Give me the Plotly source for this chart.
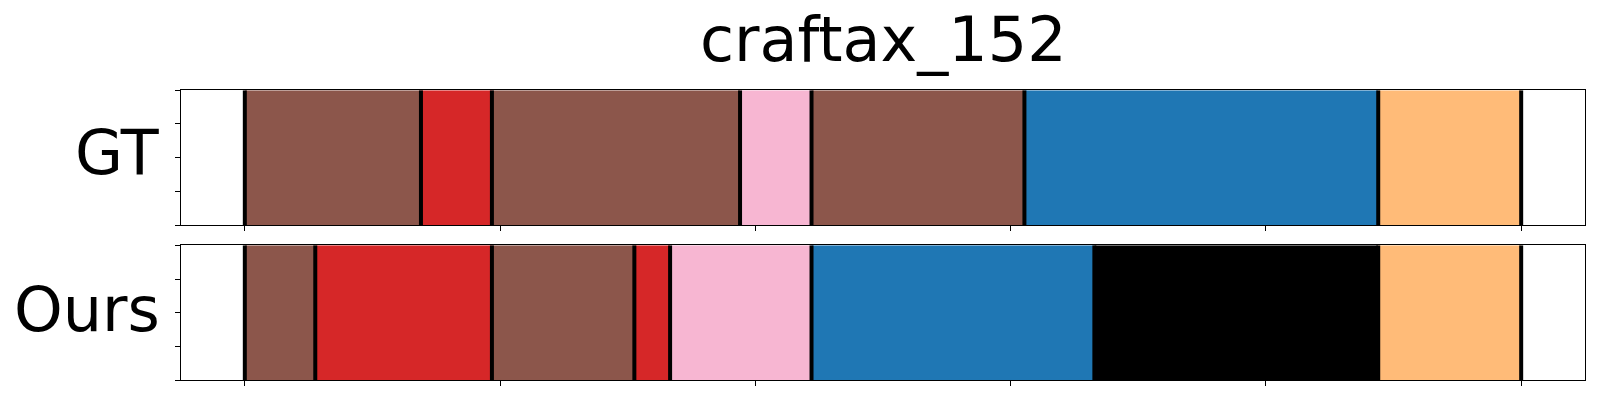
import plotly.graph_objects as go

title = "craftax_152"
row_names = ["GT", "Ours"]

# segment boundaries (frames) and colours per row
gt_bounds = [0, 34.5, 48.4, 97.0, 111.0, 152.7, 222.0, 250.0]
gt_colors = ["#8c564b", "#d62728", "#8c564b", "#f7b6d2", "#8c564b", "#1f77b4", "#ffbb78"]

ours_bounds = [0, 13.8, 48.4, 76.3, 83.3, 111.0, 166.4, 222.0, 250.0]
ours_colors = ["#8c564b", "#d62728", "#8c564b", "#d62728", "#f7b6d2", "#1f77b4", "#000000", "#ffbb78"]

x_ticks = [0, 50, 100, 150, 200, 250]
total = 250.0

W, H = 1600, 400
left_px, right_px = 181, 1585
rows_px = [(90.3, 225.0), (245.3, 380.3)]

fig = go.Figure()

data_rows = [(gt_bounds, gt_colors), (ours_bounds, ours_colors)]
for i, (bounds, colors) in enumerate(data_rows):
    xa = "x" if i == 0 else "x2"
    ya = "y" if i == 0 else "y2"
    starts = bounds[:-1]
    durs = [b - a for a, b in zip(bounds[:-1], bounds[1:])]
    fig.add_trace(go.Bar(
        y=[0] * len(starts), x=durs, base=starts, orientation="h",
        marker=dict(color=colors, line=dict(width=0)), width=1.0,
        xaxis=xa, yaxis=ya, showlegend=False, hoverinfo="skip"))
    lx, ly = [], []
    for b in bounds:
        lx += [b, b, None]
        ly += [-0.5, 0.5, None]
    fig.add_trace(go.Scatter(
        x=lx, y=ly, mode="lines", line=dict(color="black", width=4),
        xaxis=xa, yaxis=ya, showlegend=False, hoverinfo="skip"))

margin = 0.05 * total
xdom = [left_px / W, right_px / W]
axis_common = dict(showline=True, linecolor="black", linewidth=1.1, mirror=True,
                   ticks="outside", ticklen=5, tickwidth=1.1, tickcolor="black",
                   showgrid=False, zeroline=False, showticklabels=False)

layout = dict(width=W, height=H, margin=dict(l=0, r=0, t=0, b=0),
              paper_bgcolor="white", plot_bgcolor="white", barmode="overlay",
              showlegend=False)
for i, (top, bot) in enumerate(rows_px):
    suffix = "" if i == 0 else "2"
    layout["xaxis" + suffix] = dict(domain=xdom, range=[-margin, total + margin],
                                    tickvals=x_ticks, anchor="y" + suffix, **axis_common)
    layout["yaxis" + suffix] = dict(domain=[1 - bot / H, 1 - top / H], range=[-0.5, 0.5],
                                    tickvals=[-0.5, -0.25, 0, 0.25, 0.5],
                                    anchor="x" + suffix, **axis_common)
fig.update_layout(**layout)

font = dict(family="DejaVu Sans", size=62, color="black")
fig.add_annotation(text=title, x=(left_px + right_px) / 2 / W, y=1 - 40 / H,
                   xref="paper", yref="paper", xanchor="center", yanchor="middle",
                   showarrow=False, font=font)
label_y = [152, 309]
for name, yc in zip(row_names, label_y):
    fig.add_annotation(text=name, x=162 / W, y=1 - yc / H, xref="paper", yref="paper",
                       xanchor="right", yanchor="middle", showarrow=False, font=font)

fig.write_html("out.html", config={"displayModeBar": False},
               post_script="document.body.style.margin='0';document.body.style.padding='0';")
